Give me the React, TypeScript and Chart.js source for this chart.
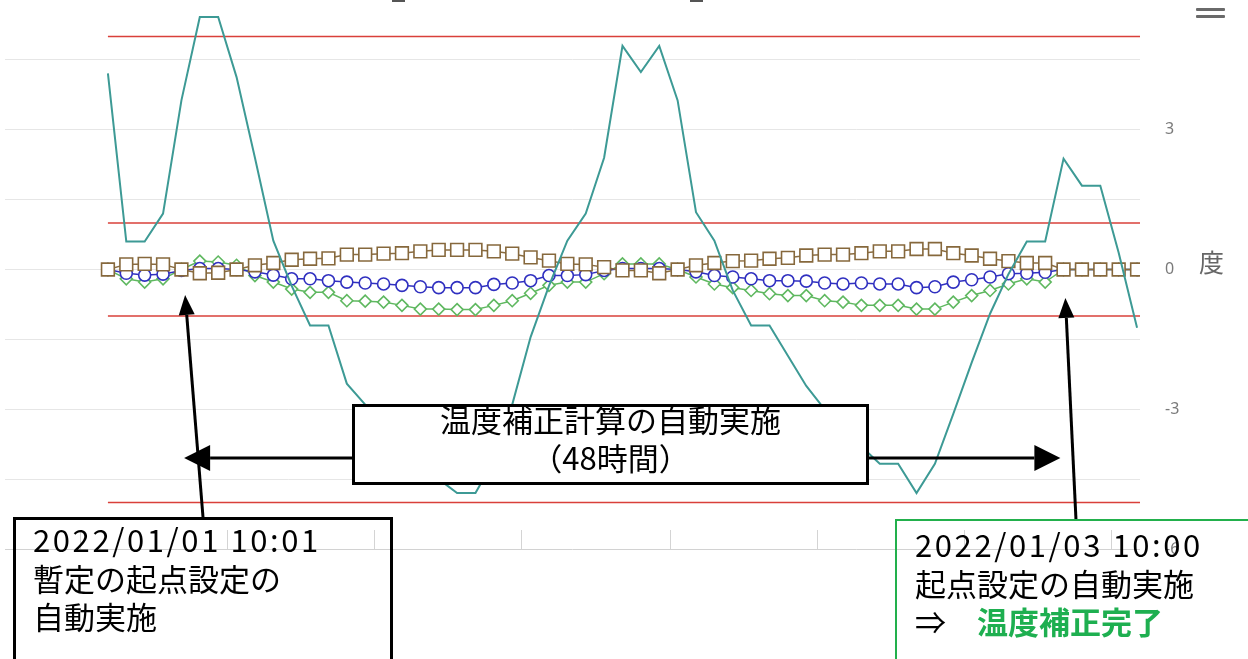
import React, { useEffect, useRef } from 'react';
import { Chart, registerables } from 'chart.js';

Chart.register(...registerables);

// ---- data (hourly samples) ----
const hours = [
  0, 1, 2, 3, 4, 5, 6, 7, 8, 9, 10, 11, 12, 13, 14, 15, 16, 17, 18, 19,
  20, 21, 22, 23, 24, 25, 26, 27, 28, 29, 30, 31, 32, 33, 34, 35, 36, 37, 38, 39,
  40, 41, 42, 43, 44, 45, 46, 47, 48, 49, 50, 51, 52, 53, 54, 55, 56,
];

const rawSeries = [
  4.21, 0.6, 0.6, 1.2, 3.63, 5.42, 5.42, 4.13, 2.4, 0.62,
  -0.35, -1.2, -1.2, -2.45, -2.9, -3.3, -3.7, -4.1, -4.5, -4.8,
  -4.8, -4.1, -2.9, -1.45, -0.35, 0.62, 1.2, 2.4, 4.8, 4.24,
  4.8, 3.63, 1.23, 0.62, -0.45, -1.2, -1.2, -1.85, -2.5, -3.0,
  -3.4, -3.8, -4.17, -4.17, -4.8, -4.17, -3.1, -2.0, -0.95, -0.1,
  0.6, 0.6, 2.38, 1.8, 1.8, 0.36, -1.25,
];

const squareSeries = [
  0, 0.11, 0.12, 0.11, 0, -0.08, -0.07, 0, 0.09, 0.14,
  0.21, 0.23, 0.24, 0.32, 0.32, 0.34, 0.35, 0.39, 0.42, 0.42,
  0.42, 0.39, 0.34, 0.26, 0.19, 0.12, 0.11, 0.05, -0.02, -0.02,
  -0.08, 0, 0.09, 0.14, 0.18, 0.19, 0.23, 0.25, 0.3, 0.32,
  0.32, 0.35, 0.39, 0.39, 0.44, 0.44, 0.35, 0.3, 0.23, 0.18,
  0.14, 0.14, 0, 0, 0, 0, 0,
];

const circleSeries = [
  0, -0.08, -0.12, -0.1, -0.02, 0.02, 0.02, 0, -0.05, -0.12,
  -0.2, -0.2, -0.24, -0.27, -0.29, -0.31, -0.34, -0.37, -0.39, -0.39,
  -0.39, -0.32, -0.29, -0.24, -0.13, -0.13, -0.11, -0.02, 0.02, 0.02,
  0.02, 0, -0.05, -0.13, -0.16, -0.2, -0.24, -0.24, -0.25, -0.29,
  -0.31, -0.29, -0.31, -0.31, -0.39, -0.37, -0.27, -0.22, -0.16, -0.09,
  -0.08, -0.06, 0, 0, 0, 0, 0,
];

const diamondSeries = [
  0, -0.2, -0.27, -0.2, 0, 0.18, 0.16, 0.09, -0.13, -0.27,
  -0.42, -0.49, -0.49, -0.67, -0.68, -0.7, -0.77, -0.85, -0.85, -0.86,
  -0.86, -0.77, -0.67, -0.51, -0.34, -0.27, -0.27, -0.09, 0.12, 0.12,
  0.12, 0, -0.16, -0.31, -0.39, -0.45, -0.52, -0.56, -0.56, -0.67,
  -0.7, -0.77, -0.77, -0.77, -0.85, -0.85, -0.7, -0.56, -0.45, -0.31,
  -0.2, -0.27, 0, 0, 0, 0, 0,
];

const limitLevels = [5, 1, -1, -5];
const yTickLabels = [-6, -3, 0, 3, 6];
const xTickHours = [-1.5, 6.5, 14.5, 22.5, 30.6, 38.6, 46.6, 54.6];
const eventHours = [4.2, 52.1]; // 2022/01/01 10:01 and 2022/01/03 10:00
const X_MIN = -5.6;
const X_MAX = 56.16;
const Y_MIN = -6;
const Y_MAX = 6;

const SHIFT = 30; // canvas is shifted up (top of chart cropped)

function drawArrow(ctx: CanvasRenderingContext2D, x1: number, y1: number, x2: number, y2: number, headLen: number, headHalf: number) {
  const ang = Math.atan2(y2 - y1, x2 - x1);
  const bx = x2 - headLen * Math.cos(ang);
  const by = y2 - headLen * Math.sin(ang);
  ctx.beginPath();
  ctx.moveTo(x1, y1);
  ctx.lineTo(bx, by);
  ctx.stroke();
  ctx.beginPath();
  ctx.moveTo(x2, y2);
  ctx.lineTo(bx + headHalf * Math.sin(ang), by - headHalf * Math.cos(ang));
  ctx.lineTo(bx - headHalf * Math.sin(ang), by + headHalf * Math.cos(ang));
  ctx.closePath();
  ctx.fill();
}

const overlayPlugin = {
  id: 'overlayPlugin',
  afterDraw(chart: any) {
    const { ctx, chartArea, scales } = chart;
    const xs = scales.x;
    ctx.save();
    // inside tick marks on the x axis
    ctx.strokeStyle = '#d4d4d4';
    ctx.lineWidth = 1;
    for (const h of xTickHours) {
      const px = Math.round(xs.getPixelForValue(h)) + 0.5;
      ctx.beginPath();
      ctx.moveTo(px, chartArea.bottom);
      ctx.lineTo(px, chartArea.bottom - 19);
      ctx.stroke();
    }
    // annotation arrows
    const startX = xs.getPixelForValue(eventHours[0]);
    const endX = xs.getPixelForValue(eventHours[1]);
    ctx.strokeStyle = '#000';
    ctx.fillStyle = '#000';
    ctx.lineWidth = 3;
    drawArrow(ctx, 203, 517 + SHIFT, startX, 295 + SHIFT, 20, 8);
    drawArrow(ctx, 1076, 520 + SHIFT, endX, 298 + SHIFT, 20, 8);
    drawArrow(ctx, 353, 458 + SHIFT, startX - 1, 458 + SHIFT, 26, 13);
    drawArrow(ctx, 868, 458 + SHIFT, endX - 5, 458 + SHIFT, 26, 13);
    ctx.restore();
  },
};

const cjk = '"Noto Sans CJK JP", "Noto Sans CJK SC", sans-serif';

export default function App() {
  const canvasRef = useRef<HTMLCanvasElement | null>(null);

  useEffect(() => {
    if (!canvasRef.current) return;
    const pts = (vals: number[]) => hours.map((h, i) => ({ x: h, y: vals[i] }));
    const limitDatasets = limitLevels.map((lv) => ({
      label: 'limit ' + lv,
      data: [{ x: hours[0], y: lv }, { x: X_MAX, y: lv }],
      borderColor: '#d9403a',
      borderWidth: 1.5,
      pointRadius: 0,
      fill: false,
    }));
    const chart = new Chart(canvasRef.current, {
      type: 'line',
      data: {
        datasets: [
          {
            label: 'raw',
            data: pts(rawSeries),
            borderColor: '#3d9a95',
            borderWidth: 2,
            pointRadius: 0,
            fill: false,
          },
          {
            label: 'square',
            data: pts(squareSeries),
            borderColor: '#8a6c40',
            borderWidth: 1.5,
            pointStyle: 'rect',
            pointRadius: 9,
            pointBorderWidth: 1.6,
            pointBackgroundColor: '#ffffff',
            pointBorderColor: '#86683c',
            fill: false,
          },
          {
            label: 'circle',
            data: pts(circleSeries),
            borderColor: '#3030c0',
            borderWidth: 1.5,
            pointStyle: 'circle',
            pointRadius: 6,
            pointBorderWidth: 1.6,
            pointBackgroundColor: '#ffffff',
            pointBorderColor: '#3030c0',
            fill: false,
          },
          {
            label: 'diamond',
            data: pts(diamondSeries),
            borderColor: '#5fb860',
            borderWidth: 1.5,
            pointStyle: 'rectRot',
            pointRadius: 6,
            pointBorderWidth: 1.6,
            pointBackgroundColor: '#ffffff',
            pointBorderColor: '#5fb860',
            fill: false,
          },
          ...limitDatasets,
        ] as any,
      },
      options: {
        animation: false,
        responsive: false,
        maintainAspectRatio: false,
        devicePixelRatio: 1,
        layout: { autoPadding: false, padding: { left: 5, top: 20, right: 0, bottom: 0 } },
        plugins: {
          legend: { display: false },
          tooltip: { enabled: false },
          title: { display: false },
        },
        scales: {
          x: {
            type: 'linear',
            min: X_MIN,
            max: X_MAX,
            grid: { display: false },
            border: { display: false },
            ticks: { display: false },
            afterBuildTicks: (s: any) => {
              s.ticks = xTickHours.map((v) => ({ value: v }));
            },
            afterFit: (s: any) => {
              s.height = 110;
              s.paddingLeft = 0;
              s.paddingRight = 0;
            },
          },
          y: {
            position: 'right',
            min: Y_MIN,
            max: Y_MAX,
            border: { display: false },
            grid: {
              drawTicks: false,
              color: (c: any) => (c.tick && c.tick.value === Y_MIN ? '#d2d2d2' : '#e6e6e6'),
              lineWidth: 1,
            },
            ticks: {
              stepSize: 1.5,
              autoSkip: false,
              padding: 25,
              color: '#7a7a7a',
              font: { size: 16, family: '"Noto Sans", sans-serif' },
              callback: (v: any) => (yTickLabels.includes(Number(v)) ? String(v) : ''),
            },
            afterFit: (s: any) => {
              s.width = 108;
              s.paddingTop = 0;
              s.paddingBottom = 0;
            },
          },
        },
      } as any,
      plugins: [overlayPlugin],
    });
    return () => chart.destroy();
  }, []);

  return (
    <div style={{ position: 'fixed', left: 0, top: 0, width: 1248, height: 659, overflow: 'hidden', background: '#fff' }}>
      <div style={{ position: 'absolute', left: 0, top: -SHIFT, width: 1248, height: 659 + SHIFT }}>
        <canvas ref={canvasRef} width={1248} height={659 + SHIFT} style={{ width: 1248, height: 659 + SHIFT, display: 'block' }} />
      </div>

      {/* cropped title remnants */}
      <div style={{ position: 'absolute', left: 392, top: 0, width: 13, height: 2, background: '#555' }} />
      <div style={{ position: 'absolute', left: 690, top: 0, width: 13, height: 2, background: '#555' }} />

      {/* export menu icon (cropped) */}
      <div style={{ position: 'absolute', left: 1196, top: 8, width: 29, height: 3, background: '#6a6a6a', borderRadius: 1 }} />
      <div style={{ position: 'absolute', left: 1196, top: 15, width: 29, height: 3, background: '#6a6a6a', borderRadius: 1 }} />

      {/* y-axis unit */}
      <div style={{ position: 'absolute', left: 1199, top: 249, fontFamily: cjk, fontSize: 25, lineHeight: '25px', color: '#666' }}>度</div>

      {/* middle annotation */}
      <div style={{ position: 'absolute', left: 352, top: 404, width: 517, height: 81, border: '3px solid #000', boxSizing: 'border-box', background: '#fff' }}>
        <div style={{ position: 'absolute', left: 0, right: 0, top: -7, textAlign: 'center', fontFamily: cjk, fontSize: 31, lineHeight: '38px', color: '#000' }}>
          <div>温度補正計算の自動実施</div>
          <div>（48時間）</div>
        </div>
      </div>

      {/* left annotation */}
      <div style={{ position: 'absolute', left: 13, top: 517, width: 380, height: 200, border: '3px solid #000', boxSizing: 'border-box' }}>
        <div style={{ position: 'absolute', left: 17, top: 0, fontFamily: cjk, fontSize: 31, lineHeight: '38.5px', color: '#000', whiteSpace: 'nowrap' }}>
          <div style={{ letterSpacing: '2.6px' }}>2022/01/01 10:01</div>
          <div>暫定の起点設定の</div>
          <div>自動実施</div>
        </div>
      </div>

      {/* right annotation */}
      <div style={{ position: 'absolute', left: 895, top: 519, width: 400, height: 200, border: '2px solid #22b04c', boxSizing: 'border-box' }}>
        <div style={{ position: 'absolute', left: 18, top: 4, fontFamily: cjk, fontSize: 31, lineHeight: '38.5px', color: '#000', whiteSpace: 'nowrap' }}>
          <div style={{ letterSpacing: '2.6px' }}>2022/01/03 10:00</div>
          <div>起点設定の自動実施</div>
          <div>
            ⇒　<span style={{ color: '#1eaf50', fontWeight: 700 }}>温度補正完了</span>
          </div>
        </div>
      </div>
    </div>
  );
}
